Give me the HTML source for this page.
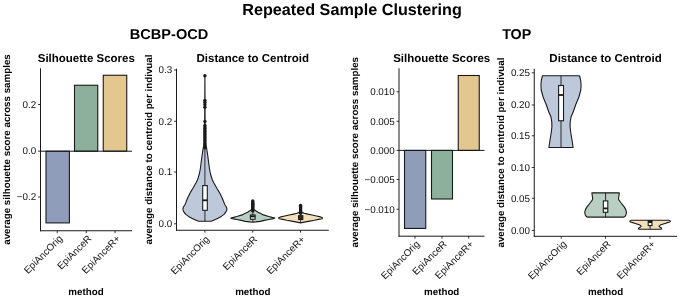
<!DOCTYPE html>
<html lang="en"><head><meta charset="utf-8"><title>Repeated Sample Clustering</title>
<style>
html,body{margin:0;padding:0;background:#fff;}
body{width:680px;height:297px;overflow:hidden;}
svg{display:block;font-family:"Liberation Sans", sans-serif;will-change:transform;text-rendering:geometricPrecision;}
</style></head><body>
<svg width="680" height="297" viewBox="0 0 680 297">
<rect width="680" height="297" fill="#fff"/>
<text x="242.2" y="15.1" font-size="16.1" font-weight="700" textLength="219.6" lengthAdjust="spacingAndGlyphs">Repeated Sample Clustering</text>
<text x="129.8" y="39.3" font-size="14.3" font-weight="700" textLength="78.5" lengthAdjust="spacingAndGlyphs">BCBP-OCD</text>
<text x="516.7" y="39.3" font-size="14.3" font-weight="700" text-anchor="middle" fill="#000">TOP</text>
<rect x="46.0" y="151.2" width="23.40" height="71.70" fill="#8f9dba" stroke="#1a1a1a" stroke-width="1.1"/>
<rect x="74.5" y="85.25" width="23.25" height="65.95" fill="#8cb09b" stroke="#1a1a1a" stroke-width="1.1"/>
<rect x="103.25" y="75.25" width="23.50" height="75.95" fill="#e2c790" stroke="#1a1a1a" stroke-width="1.1"/>
<line x1="40.5" y1="151.2" x2="132" y2="151.2" stroke="#1a1a1a" stroke-width="1.0"/>
<line x1="38.1" y1="104.5" x2="40.5" y2="104.5" stroke="#1a1a1a" stroke-width="0.9"/>
<text x="36.3" y="107.75" font-size="9.85" text-anchor="end" fill="#111">0.2</text>
<line x1="38.1" y1="151.2" x2="40.5" y2="151.2" stroke="#1a1a1a" stroke-width="0.9"/>
<text x="36.3" y="154.45" font-size="9.85" text-anchor="end" fill="#111">0.0</text>
<line x1="38.1" y1="197" x2="40.5" y2="197" stroke="#1a1a1a" stroke-width="0.9"/>
<text x="36.3" y="200.25" font-size="9.85" text-anchor="end" fill="#111">−0.2</text>
<line x1="57.25" y1="230.75" x2="57.25" y2="233.15" stroke="#1a1a1a" stroke-width="0.9"/>
<text x="63.15" y="239.15" font-size="9.85" text-anchor="end" fill="#111" transform="rotate(-45 63.15 239.15)">EpiAncOrig</text>
<line x1="86.25" y1="230.75" x2="86.25" y2="233.15" stroke="#1a1a1a" stroke-width="0.9"/>
<text x="92.15" y="239.15" font-size="9.85" text-anchor="end" fill="#111" transform="rotate(-45 92.15 239.15)">EpiAnceR</text>
<line x1="115" y1="230.75" x2="115" y2="233.15" stroke="#1a1a1a" stroke-width="0.9"/>
<text x="120.9" y="239.15" font-size="9.85" text-anchor="end" fill="#111" transform="rotate(-45 120.9 239.15)">EpiAnceR+</text>
<line x1="40.5" y1="68.25" x2="40.5" y2="231.25" stroke="#1a1a1a" stroke-width="1.0"/>
<line x1="40.0" y1="230.75" x2="132" y2="230.75" stroke="#1a1a1a" stroke-width="1.0"/>
<text x="10" y="149.5" font-size="9.78" font-weight="700" text-anchor="middle" fill="#000" transform="rotate(-90 10 149.5)">average silhouette score across samples</text>
<text x="86.3" y="62" font-size="11.5" font-weight="700" text-anchor="middle" fill="#000">Silhouette Scores</text>
<text x="86" y="294.5" font-size="9.78" font-weight="700" text-anchor="middle" fill="#000">method</text>
<path d="M204.90 75.50 L204.60 143.00 L203.20 148.00 L202.00 156.00 L201.10 163.00 L200.30 169.00 L199.30 174.00 L198.10 178.00 L197.40 180.00 L195.90 183.00 L194.20 186.00 L192.50 189.00 L190.60 192.10 L189.10 195.00 L187.70 197.80 L186.80 200.00 L185.80 202.60 L184.80 205.00 L183.40 207.00 L182.90 208.80 L183.20 210.50 L184.20 212.40 L185.80 214.40 L188.50 216.40 L191.80 218.20 L195.00 219.70 L197.40 220.80 L198.70 221.30 L204.90 221.30 L204.90 221.30 L211.10 221.30 L212.40 220.80 L214.80 219.70 L218.00 218.20 L221.30 216.40 L224.00 214.40 L225.60 212.40 L226.60 210.50 L226.90 208.80 L226.40 207.00 L225.00 205.00 L224.00 202.60 L223.00 200.00 L222.10 197.80 L220.70 195.00 L219.20 192.10 L217.30 189.00 L215.60 186.00 L213.90 183.00 L212.40 180.00 L211.70 178.00 L210.50 174.00 L209.50 169.00 L208.70 163.00 L207.80 156.00 L206.60 148.00 L205.20 143.00 L204.90 75.50Z" fill="#bec8db" stroke="#1a1a1a" stroke-width="1.1" stroke-linejoin="round"/>
<line x1="204.9" y1="148" x2="204.9" y2="185.8" stroke="#1a1a1a" stroke-width="0.9"/>
<line x1="204.9" y1="210.3" x2="204.9" y2="221.3" stroke="#1a1a1a" stroke-width="0.9"/>
<circle cx="204.9" cy="75.70" r="1.7" fill="#1a1a1a"/>
<circle cx="204.9" cy="100.50" r="1.7" fill="#1a1a1a"/>
<circle cx="204.9" cy="102.50" r="1.7" fill="#1a1a1a"/>
<circle cx="204.9" cy="104.80" r="1.7" fill="#1a1a1a"/>
<circle cx="204.9" cy="107.20" r="1.7" fill="#1a1a1a"/>
<circle cx="204.9" cy="121.40" r="1.7" fill="#1a1a1a"/>
<circle cx="204.9" cy="125.40" r="1.7" fill="#1a1a1a"/>
<circle cx="204.9" cy="126.90" r="1.7" fill="#1a1a1a"/>
<circle cx="204.9" cy="128.40" r="1.7" fill="#1a1a1a"/>
<circle cx="204.9" cy="129.90" r="1.7" fill="#1a1a1a"/>
<circle cx="204.9" cy="131.40" r="1.7" fill="#1a1a1a"/>
<circle cx="204.9" cy="132.90" r="1.7" fill="#1a1a1a"/>
<circle cx="204.9" cy="134.40" r="1.7" fill="#1a1a1a"/>
<circle cx="204.9" cy="135.90" r="1.7" fill="#1a1a1a"/>
<circle cx="204.9" cy="137.40" r="1.7" fill="#1a1a1a"/>
<circle cx="204.9" cy="138.90" r="1.7" fill="#1a1a1a"/>
<circle cx="204.9" cy="140.40" r="1.7" fill="#1a1a1a"/>
<circle cx="204.9" cy="141.90" r="1.7" fill="#1a1a1a"/>
<circle cx="204.9" cy="143.40" r="1.7" fill="#1a1a1a"/>
<circle cx="204.9" cy="144.90" r="1.7" fill="#1a1a1a"/>
<circle cx="204.9" cy="146.40" r="1.7" fill="#1a1a1a"/>
<circle cx="204.9" cy="147.90" r="1.7" fill="#1a1a1a"/>
<rect x="202.7" y="185.6" width="4.60" height="24.70" fill="#fff" stroke="#1a1a1a" stroke-width="1.1"/>
<line x1="202.7" y1="200.3" x2="207.3" y2="200.3" stroke="#1a1a1a" stroke-width="1.8"/>
<path d="M252.80 200.50 L252.20 209.00 L251.00 210.00 L247.60 212.20 L244.80 213.60 L242.20 214.90 L236.80 216.50 L233.60 217.35 L231.60 217.80 L230.90 218.10 L231.50 218.45 L233.60 218.90 L236.80 219.50 L241.30 220.40 L245.40 221.35 L249.80 221.90 L252.80 222.20 L252.80 222.20 L255.80 221.90 L260.20 221.35 L264.30 220.40 L268.80 219.50 L272.00 218.90 L274.10 218.45 L274.70 218.10 L274.00 217.80 L272.00 217.35 L268.80 216.50 L263.40 214.90 L260.80 213.60 L258.00 212.20 L254.60 210.00 L253.40 209.00 L252.80 200.50Z" fill="#b9cfc3" stroke="#1a1a1a" stroke-width="1.1" stroke-linejoin="round"/>
<line x1="252.8" y1="211" x2="252.8" y2="215" stroke="#1a1a1a" stroke-width="0.9"/>
<line x1="252.8" y1="219.2" x2="252.8" y2="222" stroke="#1a1a1a" stroke-width="0.9"/>
<circle cx="252.8" cy="201.00" r="1.7" fill="#1a1a1a"/>
<circle cx="252.8" cy="202.10" r="1.7" fill="#1a1a1a"/>
<circle cx="252.8" cy="203.20" r="1.7" fill="#1a1a1a"/>
<circle cx="252.8" cy="204.30" r="1.7" fill="#1a1a1a"/>
<circle cx="252.8" cy="205.40" r="1.7" fill="#1a1a1a"/>
<circle cx="252.8" cy="206.50" r="1.7" fill="#1a1a1a"/>
<circle cx="252.8" cy="207.60" r="1.7" fill="#1a1a1a"/>
<circle cx="252.8" cy="208.70" r="1.7" fill="#1a1a1a"/>
<circle cx="252.8" cy="209.80" r="1.7" fill="#1a1a1a"/>
<circle cx="252.8" cy="210.90" r="1.7" fill="#1a1a1a"/>
<rect x="250.4" y="215.0" width="4.70" height="4.20" fill="#fff" stroke="#1a1a1a" stroke-width="1.1"/>
<line x1="250.4" y1="216.4" x2="255.1" y2="216.4" stroke="#1a1a1a" stroke-width="1.9"/>
<path d="M300.60 205.50 L299.80 211.60 L299.00 212.20 L297.20 213.30 L293.40 214.10 L289.10 215.00 L284.80 215.95 L280.70 216.90 L279.00 217.60 L278.60 218.10 L279.10 218.70 L282.60 219.40 L287.00 220.30 L291.50 221.10 L295.60 221.90 L299.30 222.60 L300.60 223.00 L300.60 223.00 L301.90 222.60 L305.60 221.90 L309.70 221.10 L314.20 220.30 L318.60 219.40 L322.10 218.70 L322.60 218.10 L322.20 217.60 L320.50 216.90 L316.40 215.95 L312.10 215.00 L307.80 214.10 L304.00 213.30 L302.20 212.20 L301.40 211.60 L300.60 205.50Z" fill="#f2dfbc" stroke="#1a1a1a" stroke-width="1.1" stroke-linejoin="round"/>
<line x1="300.6" y1="212" x2="300.6" y2="216" stroke="#1a1a1a" stroke-width="0.9"/>
<line x1="300.6" y1="219.5" x2="300.6" y2="223" stroke="#1a1a1a" stroke-width="0.9"/>
<circle cx="300.6" cy="205.50" r="1.7" fill="#1a1a1a"/>
<circle cx="300.6" cy="206.60" r="1.7" fill="#1a1a1a"/>
<circle cx="300.6" cy="207.70" r="1.7" fill="#1a1a1a"/>
<circle cx="300.6" cy="208.80" r="1.7" fill="#1a1a1a"/>
<circle cx="300.6" cy="209.90" r="1.7" fill="#1a1a1a"/>
<circle cx="300.6" cy="211.00" r="1.7" fill="#1a1a1a"/>
<circle cx="300.6" cy="212.10" r="1.7" fill="#1a1a1a"/>
<circle cx="300.6" cy="213.20" r="1.7" fill="#1a1a1a"/>
<rect x="298.6" y="215.7" width="4.20" height="3.80" fill="#2a2a2a" stroke="#1a1a1a" stroke-width="1.1"/>
<line x1="174.1" y1="70" x2="176.5" y2="70" stroke="#1a1a1a" stroke-width="0.9"/>
<text x="172.3" y="73.25" font-size="9.85" text-anchor="end" fill="#111">0.3</text>
<line x1="174.1" y1="121.25" x2="176.5" y2="121.25" stroke="#1a1a1a" stroke-width="0.9"/>
<text x="172.3" y="124.5" font-size="9.85" text-anchor="end" fill="#111">0.2</text>
<line x1="174.1" y1="172.0" x2="176.5" y2="172.0" stroke="#1a1a1a" stroke-width="0.9"/>
<text x="172.3" y="175.25" font-size="9.85" text-anchor="end" fill="#111">0.1</text>
<line x1="174.1" y1="223.8" x2="176.5" y2="223.8" stroke="#1a1a1a" stroke-width="0.9"/>
<text x="172.3" y="227.05" font-size="9.85" text-anchor="end" fill="#111">0.0</text>
<line x1="204.9" y1="230.25" x2="204.9" y2="232.65" stroke="#1a1a1a" stroke-width="0.9"/>
<text x="209.9" y="239.85" font-size="9.85" text-anchor="end" fill="#111" transform="rotate(-45 209.9 239.85)">EpiAncOrig</text>
<line x1="252.8" y1="230.25" x2="252.8" y2="232.65" stroke="#1a1a1a" stroke-width="0.9"/>
<text x="257.8" y="239.85" font-size="9.85" text-anchor="end" fill="#111" transform="rotate(-45 257.8 239.85)">EpiAnceR</text>
<line x1="300.5" y1="230.25" x2="300.5" y2="232.65" stroke="#1a1a1a" stroke-width="0.9"/>
<text x="305.5" y="239.85" font-size="9.85" text-anchor="end" fill="#111" transform="rotate(-45 305.5 239.85)">EpiAnceR+</text>
<line x1="176.5" y1="68.75" x2="176.5" y2="230.75" stroke="#1a1a1a" stroke-width="1.0"/>
<line x1="176.0" y1="230.25" x2="328.8" y2="230.25" stroke="#1a1a1a" stroke-width="1.0"/>
<text x="152" y="149.5" font-size="9.78" font-weight="700" text-anchor="middle" fill="#000" transform="rotate(-90 152 149.5)">average distance to centroid per indivual</text>
<text x="252.8" y="62" font-size="11.5" font-weight="700" text-anchor="middle" fill="#000">Distance to Centroid</text>
<text x="252.8" y="294.5" font-size="9.78" font-weight="700" text-anchor="middle" fill="#000">method</text>
<rect x="404.5" y="150.4" width="21.25" height="78.05" fill="#8f9dba" stroke="#1a1a1a" stroke-width="1.1"/>
<rect x="431.5" y="150.4" width="21.00" height="48.60" fill="#8cb09b" stroke="#1a1a1a" stroke-width="1.1"/>
<rect x="458.25" y="75.5" width="21.00" height="74.90" fill="#e2c790" stroke="#1a1a1a" stroke-width="1.1"/>
<line x1="399" y1="150.4" x2="484.5" y2="150.4" stroke="#1a1a1a" stroke-width="1.0"/>
<line x1="396.6" y1="91.75" x2="399" y2="91.75" stroke="#1a1a1a" stroke-width="0.9"/>
<text x="394.8" y="95.0" font-size="9.85" text-anchor="end" fill="#111">0.010</text>
<line x1="396.6" y1="121.25" x2="399" y2="121.25" stroke="#1a1a1a" stroke-width="0.9"/>
<text x="394.8" y="124.5" font-size="9.85" text-anchor="end" fill="#111">0.005</text>
<line x1="396.6" y1="150.4" x2="399" y2="150.4" stroke="#1a1a1a" stroke-width="0.9"/>
<text x="394.8" y="153.65" font-size="9.85" text-anchor="end" fill="#111">0.000</text>
<line x1="396.6" y1="179.5" x2="399" y2="179.5" stroke="#1a1a1a" stroke-width="0.9"/>
<text x="394.8" y="182.75" font-size="9.85" text-anchor="end" fill="#111">−0.005</text>
<line x1="396.6" y1="209.25" x2="399" y2="209.25" stroke="#1a1a1a" stroke-width="0.9"/>
<text x="394.8" y="212.5" font-size="9.85" text-anchor="end" fill="#111">−0.010</text>
<line x1="415" y1="236.2" x2="415" y2="238.6" stroke="#1a1a1a" stroke-width="0.9"/>
<text x="420.29999999999995" y="244.6" font-size="9.85" text-anchor="end" fill="#111" transform="rotate(-45 420.29999999999995 244.6)">EpiAncOrig</text>
<line x1="442" y1="236.2" x2="442" y2="238.6" stroke="#1a1a1a" stroke-width="0.9"/>
<text x="447.29999999999995" y="244.6" font-size="9.85" text-anchor="end" fill="#111" transform="rotate(-45 447.29999999999995 244.6)">EpiAnceR</text>
<line x1="468.75" y1="236.2" x2="468.75" y2="238.6" stroke="#1a1a1a" stroke-width="0.9"/>
<text x="474.04999999999995" y="244.6" font-size="9.85" text-anchor="end" fill="#111" transform="rotate(-45 474.04999999999995 244.6)">EpiAnceR+</text>
<line x1="399" y1="68.25" x2="399" y2="236.7" stroke="#1a1a1a" stroke-width="1.0"/>
<line x1="398.5" y1="236.2" x2="484.5" y2="236.2" stroke="#1a1a1a" stroke-width="1.0"/>
<text x="357.8" y="152.225" font-size="9.78" font-weight="700" text-anchor="middle" fill="#000" transform="rotate(-90 357.8 152.225)">average silhouette score across samples</text>
<text x="441.7" y="62" font-size="11.5" font-weight="700" text-anchor="middle" fill="#000">Silhouette Scores</text>
<text x="441.7" y="294.5" font-size="9.78" font-weight="700" text-anchor="middle" fill="#000">method</text>
<path d="M542.50 75.75 L541.40 80.00 L540.90 85.00 L541.20 90.00 L543.10 97.00 L546.40 105.00 L548.80 112.00 L551.00 117.00 L551.80 122.00 L551.90 127.00 L551.20 133.00 L550.00 140.00 L548.90 147.50 L573.10 147.50 L572.00 140.00 L570.80 133.00 L570.10 127.00 L570.20 122.00 L571.00 117.00 L573.20 112.00 L575.60 105.00 L578.90 97.00 L580.80 90.00 L581.10 85.00 L580.60 80.00 L579.50 75.75Z" fill="#bec8db" stroke="#1a1a1a" stroke-width="1.1" stroke-linejoin="round"/>
<line x1="561" y1="75.75" x2="561" y2="147.5" stroke="#1a1a1a" stroke-width="0.9"/>
<rect x="558.6" y="85.5" width="4.90" height="35.25" fill="#fff" stroke="#1a1a1a" stroke-width="1.1"/>
<line x1="558.5" y1="95.0" x2="563.75" y2="95.0" stroke="#1a1a1a" stroke-width="1.8"/>
<path d="M591.90 192.85 L592.20 195.50 L592.70 198.25 L592.40 199.90 L590.80 202.00 L589.20 204.20 L587.00 206.90 L585.40 209.60 L584.75 212.30 L585.10 214.40 L585.90 216.00 L586.80 216.80 L587.80 217.10 L623.40 217.10 L624.40 216.80 L625.30 216.00 L626.10 214.40 L626.45 212.30 L625.80 209.60 L624.20 206.90 L622.00 204.20 L620.40 202.00 L618.80 199.90 L618.50 198.25 L619.00 195.50 L619.30 192.85Z" fill="#b9cfc3" stroke="#1a1a1a" stroke-width="1.1" stroke-linejoin="round"/>
<line x1="605.6" y1="192.85" x2="605.6" y2="217.1" stroke="#1a1a1a" stroke-width="0.9"/>
<rect x="603.3" y="200.9" width="4.50" height="11.40" fill="#fff" stroke="#1a1a1a" stroke-width="1.1"/>
<line x1="603.3" y1="208.4" x2="607.8" y2="208.4" stroke="#1a1a1a" stroke-width="1.8"/>
<path d="M631.50 220.25 L630.30 220.70 L629.80 221.30 L630.40 222.00 L633.60 222.90 L636.90 224.00 L639.90 225.10 L641.20 226.20 L640.10 227.30 L638.50 228.30 L638.60 228.90 L639.10 229.20 L661.10 229.20 L661.60 228.90 L661.70 228.30 L660.10 227.30 L659.00 226.20 L660.30 225.10 L663.30 224.00 L666.60 222.90 L669.80 222.00 L670.40 221.30 L669.90 220.70 L668.70 220.25Z" fill="#f2dfbc" stroke="#1a1a1a" stroke-width="1.1" stroke-linejoin="round"/>
<line x1="650.1" y1="220.25" x2="650.1" y2="229.2" stroke="#1a1a1a" stroke-width="0.9"/>
<rect x="648.2" y="220.6" width="3.80" height="5.00" fill="#fff" stroke="#1a1a1a" stroke-width="1.1"/>
<line x1="648.2" y1="221.9" x2="652.0" y2="221.9" stroke="#1a1a1a" stroke-width="2.2"/>
<line x1="531.85" y1="72.8" x2="534.25" y2="72.8" stroke="#1a1a1a" stroke-width="0.9"/>
<text x="530.05" y="76.05" font-size="9.85" text-anchor="end" fill="#111">0.25</text>
<line x1="531.85" y1="105" x2="534.25" y2="105" stroke="#1a1a1a" stroke-width="0.9"/>
<text x="530.05" y="108.25" font-size="9.85" text-anchor="end" fill="#111">0.20</text>
<line x1="531.85" y1="135.75" x2="534.25" y2="135.75" stroke="#1a1a1a" stroke-width="0.9"/>
<text x="530.05" y="139.0" font-size="9.85" text-anchor="end" fill="#111">0.15</text>
<line x1="531.85" y1="167.5" x2="534.25" y2="167.5" stroke="#1a1a1a" stroke-width="0.9"/>
<text x="530.05" y="170.75" font-size="9.85" text-anchor="end" fill="#111">0.10</text>
<line x1="531.85" y1="198.25" x2="534.25" y2="198.25" stroke="#1a1a1a" stroke-width="0.9"/>
<text x="530.05" y="201.5" font-size="9.85" text-anchor="end" fill="#111">0.05</text>
<line x1="531.85" y1="230.5" x2="534.25" y2="230.5" stroke="#1a1a1a" stroke-width="0.9"/>
<text x="530.05" y="233.75" font-size="9.85" text-anchor="end" fill="#111">0.00</text>
<line x1="561.25" y1="236.3" x2="561.25" y2="238.70000000000002" stroke="#1a1a1a" stroke-width="0.9"/>
<text x="567.15" y="244.70000000000002" font-size="9.85" text-anchor="end" fill="#111" transform="rotate(-45 567.15 244.70000000000002)">EpiAncOrig</text>
<line x1="605.5" y1="236.3" x2="605.5" y2="238.70000000000002" stroke="#1a1a1a" stroke-width="0.9"/>
<text x="611.4" y="244.70000000000002" font-size="9.85" text-anchor="end" fill="#111" transform="rotate(-45 611.4 244.70000000000002)">EpiAnceR</text>
<line x1="650" y1="236.3" x2="650" y2="238.70000000000002" stroke="#1a1a1a" stroke-width="0.9"/>
<text x="655.9" y="244.70000000000002" font-size="9.85" text-anchor="end" fill="#111" transform="rotate(-45 655.9 244.70000000000002)">EpiAnceR+</text>
<line x1="534.25" y1="68.75" x2="534.25" y2="236.8" stroke="#1a1a1a" stroke-width="1.0"/>
<line x1="533.75" y1="236.3" x2="677" y2="236.3" stroke="#1a1a1a" stroke-width="1.0"/>
<text x="504.3" y="152.525" font-size="9.78" font-weight="700" text-anchor="middle" fill="#000" transform="rotate(-90 504.3 152.525)">average distance to centroid per indivual</text>
<text x="605.6" y="62" font-size="11.5" font-weight="700" text-anchor="middle" fill="#000">Distance to Centroid</text>
<text x="605.6" y="294.5" font-size="9.78" font-weight="700" text-anchor="middle" fill="#000">method</text>
</svg>
</body></html>
